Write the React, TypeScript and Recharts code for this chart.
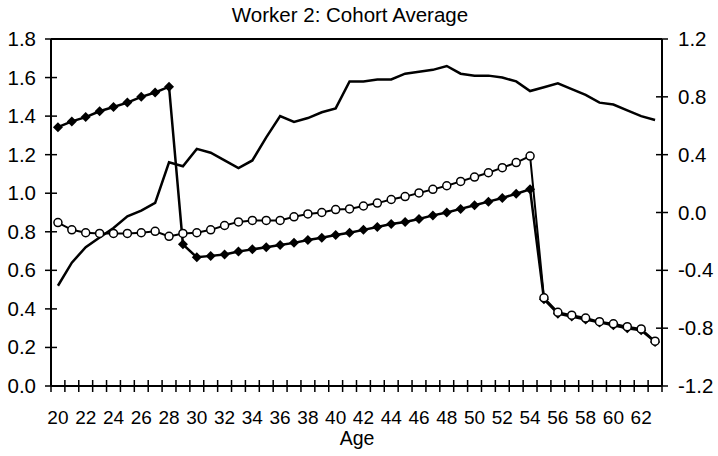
import { ComposedChart, Line, XAxis, YAxis, ReferenceLine } from 'recharts'

const ages = [
  20, 21, 22, 23, 24, 25, 26, 27, 28, 29, 30, 31, 32, 33, 34, 35, 36, 37, 38, 39, 40, 41,
  42, 43, 44, 45, 46, 47, 48, 49, 50, 51, 52, 53, 54, 55, 56, 57, 58, 59, 60, 61, 62, 63,
]

// plain line, left axis
const cohortAvg = [
  0.52, 0.64, 0.72, 0.77, 0.82, 0.88, 0.91, 0.95, 1.16, 1.14, 1.23, 1.21, 1.17, 1.13, 1.17,
  1.29, 1.4, 1.37, 1.39, 1.42, 1.44, 1.58, 1.58, 1.59, 1.59, 1.62, 1.63, 1.64, 1.66, 1.62,
  1.61, 1.61, 1.6, 1.58, 1.53, 1.55, 1.57, 1.54, 1.51, 1.47, 1.46, 1.43, 1.4, 1.38,
]

// filled diamonds, right axis
const diamondSeries = [
  0.59, 0.63, 0.66, 0.7, 0.73, 0.76, 0.8, 0.83, 0.87, -0.22, -0.31, -0.3, -0.29, -0.27,
  -0.255, -0.24, -0.225, -0.21, -0.19, -0.175, -0.155, -0.14, -0.12, -0.1, -0.08, -0.065,
  -0.045, -0.02, 0.0, 0.025, 0.05, 0.075, 0.1, 0.13, 0.16, -0.6, -0.7, -0.72, -0.74, -0.76,
  -0.78, -0.8, -0.815, -0.895,
]

// open circles, right axis
const circleSeries = [
  -0.07, -0.12, -0.14, -0.145, -0.145, -0.145, -0.14, -0.13, -0.165, -0.145, -0.14, -0.12,
  -0.09, -0.065, -0.055, -0.055, -0.055, -0.03, -0.01, 0.0, 0.02, 0.025, 0.045, 0.065, 0.09,
  0.11, 0.135, 0.16, 0.185, 0.215, 0.245, 0.275, 0.31, 0.345, 0.39, -0.59, -0.69, -0.71,
  -0.73, -0.755, -0.77, -0.79, -0.805, -0.89,
]

const ageLabels = [20, 22, 24, 26, 28, 30, 32, 34, 36, 38, 40, 42, 44, 46, 48, 50, 52, 54, 56, 58, 60, 62]
const leftTicks = [0, 0.2, 0.4, 0.6, 0.8, 1.0, 1.2, 1.4, 1.6, 1.8]
const rightTicks = [-1.2, -0.8, -0.4, 0, 0.4, 0.8, 1.2]

const data = ages.map((age, i) => ({
  age,
  avg: cohortAvg[i],
  dia: diamondSeries[i],
  circ: circleSeries[i],
}))

// tick marks sit on the category boundaries, labels on the even ages
const bounds = ages.map((a) => a - 0.5).concat(ages[ages.length - 1] + 0.5)
const xTicks = [...bounds, ...ageLabels].sort((a, b) => a - b)

const FONT = "'Liberation Sans', Arial, sans-serif"

const XTick = (p: any) => {
  const v = p.payload.value
  if (!Number.isInteger(v)) {
    return <line x1={p.x} x2={p.x} y1={p.y - 6} y2={p.y + 6} stroke="#000" strokeWidth={1.5} />
  }
  return (
    <text x={p.x} y={p.y + 38} textAnchor="middle" fontSize={19} fontFamily={FONT} fill="#000">
      {v}
    </text>
  )
}

const LeftTick = (p: any) => (
  <g>
    <line x1={p.x - 6} x2={p.x + 6} y1={p.y} y2={p.y} stroke="#000" strokeWidth={1.5} />
    <text x={p.x - 15} y={p.y + 7} textAnchor="end" fontSize={20.5} fontFamily={FONT} fill="#000">
      {p.payload.value.toFixed(1)}
    </text>
  </g>
)

const RightTick = (p: any) => (
  <g>
    <line x1={p.x - 6} x2={p.x + 6} y1={p.y} y2={p.y} stroke="#000" strokeWidth={1.5} />
    <text x={p.x + 16} y={p.y + 7} textAnchor="start" fontSize={20.5} fontFamily={FONT} fill="#000">
      {p.payload.value.toFixed(1)}
    </text>
  </g>
)

const DiamondDot = (p: any) => {
  const { cx, cy } = p
  return (
    <polygon
      key={`d-${p.index}`}
      points={`${cx},${cy - 5} ${cx + 5},${cy} ${cx},${cy + 5} ${cx - 5},${cy}`}
      fill="#000"
    />
  )
}

const CircleDot = (p: any) => (
  <circle key={`c-${p.index}`} cx={p.cx} cy={p.cy} r={4} fill="#fff" stroke="#000" strokeWidth={1.5} />
)

export default function App() {
  return (
    <div style={{ position: 'absolute', left: 0, top: 0, width: 718, height: 456, background: '#fff', fontFamily: FONT }}>
      <div style={{ position: 'absolute', left: 0, top: 5, width: 700, textAlign: 'center', fontSize: 20.5, lineHeight: '20px' }}>
        Worker 2: Cohort Average
      </div>
      <ComposedChart width={718} height={456} data={data} margin={{ top: 39, right: 6, bottom: 20, left: 6 }}>
        <XAxis
          dataKey="age"
          type="number"
          domain={[19.5, 63.5]}
          ticks={xTicks}
          interval={0}
          tick={<XTick />}
          tickLine={false}
          tickSize={0}
          tickMargin={0}
          height={50}
          axisLine={{ stroke: '#000', strokeWidth: 2 }}
        />
        <YAxis
          yAxisId="left"
          domain={[0, 1.8]}
          ticks={leftTicks}
          interval={0}
          tick={<LeftTick />}
          tickLine={false}
          tickSize={0}
          tickMargin={0}
          width={45}
          axisLine={{ stroke: '#000', strokeWidth: 2 }}
        />
        <YAxis
          yAxisId="right"
          orientation="right"
          domain={[-1.2, 1.2]}
          ticks={rightTicks}
          interval={0}
          tick={<RightTick />}
          tickLine={false}
          tickSize={0}
          tickMargin={0}
          width={50}
          axisLine={{ stroke: '#000', strokeWidth: 2 }}
        />
        <ReferenceLine yAxisId="left" y={1.8} stroke="#000" strokeWidth={2} />
        <Line yAxisId="left" dataKey="avg" type="linear" stroke="#000" strokeWidth={2.5} dot={false} isAnimationActive={false} />
        <Line yAxisId="right" dataKey="dia" type="linear" stroke="#000" strokeWidth={2.5} dot={DiamondDot} isAnimationActive={false} />
        <Line yAxisId="right" dataKey="circ" type="linear" stroke="#000" strokeWidth={2} dot={CircleDot} isAnimationActive={false} />
      </ComposedChart>
      <div style={{ position: 'absolute', left: 0, top: 429, width: 714, textAlign: 'center', fontSize: 19.5, lineHeight: '19px' }}>
        Age
      </div>
    </div>
  )
}
